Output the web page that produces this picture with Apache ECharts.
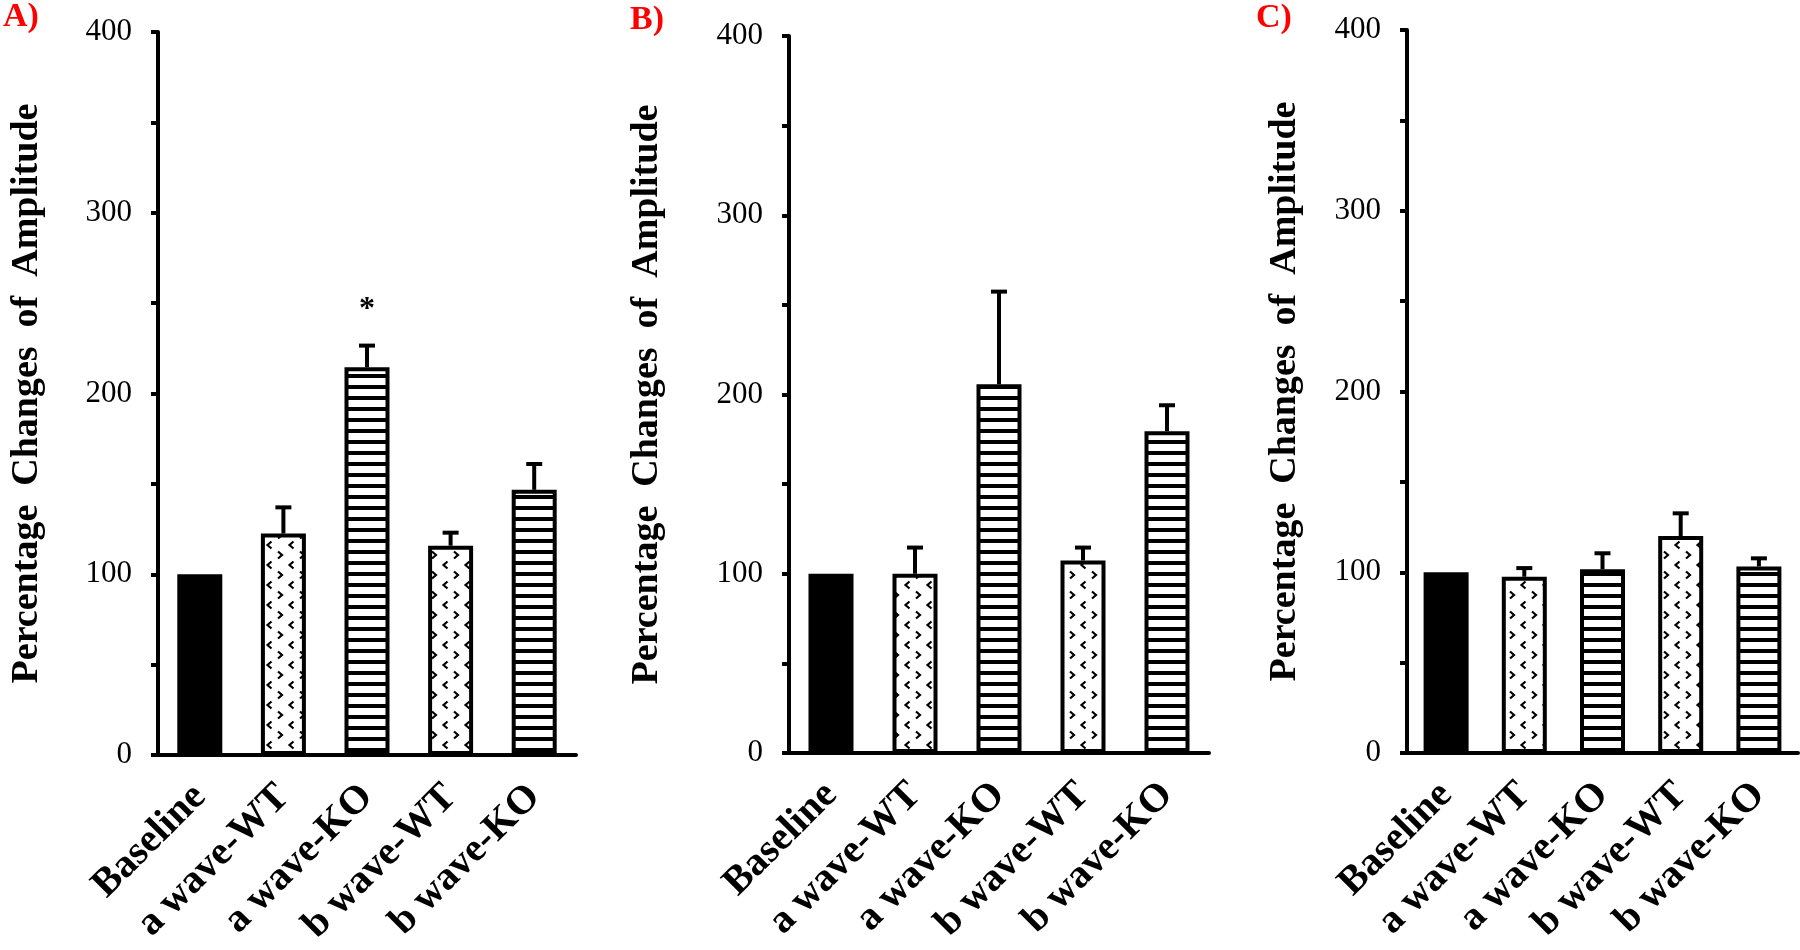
<!DOCTYPE html>
<html>
<head>
<meta charset="utf-8">
<script src="https://cdn.jsdelivr.net/npm/echarts@6/dist/echarts.min.js"></script>
<style>
html,body{margin:0;padding:0;background:#fff;}
#chart{width:1800px;height:950px;}
</style>
</head>
<body>
<div id="chart"></div>
<script>
// ---- data ----
const categories = ['Baseline', 'a wave-WT', 'a wave-KO', 'b wave-WT', 'b wave-KO'];
const panelLabels = ['A)', 'B)', 'C)'];
const yTitle = 'Percentage  Changes  of  Amplitude';
const yTickValues = [0, 100, 200, 300, 400];

const meanA = [100, 122.5, 214.5, 115.8, 146.7];
const semA  = [0, 14.5, 12, 7.2, 14.3];
const markA = ['', '', '*', '', ''];

const meanB = [100, 100, 205.7, 107.4, 179.5];
const semB  = [0, 14.6, 51.7, 7.2, 14.5];
const markB = ['', '', '', '', ''];

const meanC = [100, 97.5, 101.7, 120, 103.2];
const semC  = [0, 4.8, 8.8, 12.6, 4.5];
const markC = ['', '', '', '', ''];

// ---- styles ----
const FONT = '"Liberation Serif", "Times New Roman", serif';
const fills = ['solid', 'dots', 'stripes', 'dots', 'stripes'];

function stripePattern() {
  const c = document.createElement('canvas');
  c.width = 8; c.height = 11;
  const g = c.getContext('2d');
  g.fillStyle = '#fff'; g.fillRect(0, 0, 8, 11);
  g.fillStyle = '#000'; g.fillRect(0, 0, 8, 4);
  return c;
}
function dotPattern() {
  const c = document.createElement('canvas');
  c.width = 22; c.height = 20;
  const g = c.getContext('2d');
  g.fillStyle = '#fff'; g.fillRect(0, 0, 22, 20);
  g.strokeStyle = '#000'; g.lineWidth = 2.2;
  // "<"
  g.beginPath(); g.moveTo(7.5, 1.5); g.lineTo(3.5, 5); g.lineTo(7.5, 8.5); g.stroke();
  // ">"
  g.beginPath(); g.moveTo(14, 11.5); g.lineTo(18, 15); g.lineTo(14, 18.5); g.stroke();
  return c;
}
const patterns = {
  solid: '#000',
  dots: { image: dotPattern(), repeat: 'repeat' },
  stripes: { image: stripePattern(), repeat: 'repeat' }
};

const grids = [
  { left: 158, width: 418, top: 32, bottom: 195 },
  { left: 789, width: 420, top: 36, bottom: 197 },
  { left: 1407, width: 391, top: 30, bottom: 197 }
];
const nameGaps = [112, 123, 103];
const barWidths = [45, 45, 45];
const titlePos = [{ left: 3, top: 0 }, { left: 630, top: 3 }, { left: 1256, top: 1 }];

const panels = [
  { mean: meanA, sem: semA, mark: markA },
  { mean: meanB, sem: semB, mark: markB },
  { mean: meanC, sem: semC, mark: markC }
];

const xAxes = [], yAxes = [], series = [], titles = [];
panels.forEach((p, k) => {
  titles.push({
    text: panelLabels[k], left: titlePos[k].left, top: titlePos[k].top, padding: 0,
    textStyle: { color: '#ff0000', fontFamily: FONT, fontWeight: 'bold', fontSize: 34 }
  });
  xAxes.push({
    type: 'category', gridIndex: k, data: categories, boundaryGap: true,
    axisLine: { lineStyle: { color: '#000', width: 4 } },
    axisTick: { alignWithLabel: true, length: 7, lineStyle: { color: '#000', width: 4 } },
    axisLabel: { rotate: 45, margin: 36, color: '#000', fontFamily: FONT, fontWeight: 'bold', fontSize: 40, interval: 0 },
    splitLine: { show: false }
  });
  yAxes.push({
    type: 'value', gridIndex: k, min: 0, max: 400, interval: 50,
    name: yTitle, nameLocation: 'middle', nameRotate: 90, nameGap: nameGaps[k],
    nameTextStyle: { color: '#000', fontFamily: FONT, fontWeight: 'bold', fontSize: 38 },
    axisLine: { show: true, lineStyle: { color: '#000', width: 4 } },
    axisTick: { show: true, length: 7, lineStyle: { color: '#000', width: 4 } },
    axisLabel: {
      margin: 26, color: '#000', fontFamily: FONT, fontSize: 31,
      formatter: v => (yTickValues.indexOf(v) >= 0 ? String(v) : '')
    },
    splitLine: { show: false }
  });
  series.push({
    type: 'bar', xAxisIndex: k, yAxisIndex: k, barWidth: barWidths[k],
    data: p.mean.map((v, i) => ({
      value: v,
      itemStyle: { color: patterns[fills[i]], borderColor: '#000', borderWidth: 4 }
    })),
    animation: false, z: 2
  });
  series.push({
    type: 'custom', xAxisIndex: k, yAxisIndex: k,
    data: p.mean.map((v, i) => [i, v, p.sem[i], p.mark[i]]),
    renderItem: function (params, api) {
      const i = api.value(0), m = api.value(1), s = api.value(2);
      const mk = p.mark[i];
      const children = [];
      const p0 = api.coord([i, m]);
      const p1 = api.coord([i, m + s]);
      if (s > 0) {
        children.push({ type: 'line', shape: { x1: p0[0], y1: p0[1], x2: p1[0], y2: p1[1] }, style: { stroke: '#000', lineWidth: 4 } });
        children.push({ type: 'line', shape: { x1: p1[0] - 8, y1: p1[1], x2: p1[0] + 8, y2: p1[1] }, style: { stroke: '#000', lineWidth: 4 } });
      }
      if (mk) {
        children.push({ type: 'text', x: p1[0], y: p1[1] - 36, style: { text: mk, fill: '#000', font: 'bold 32px ' + FONT, align: 'center', verticalAlign: 'middle' } });
      }
      return { type: 'group', children: children };
    },
    animation: false, z: 3
  });
});

const chart = echarts.init(document.getElementById('chart'), null, { renderer: 'canvas' });
chart.setOption({
  backgroundColor: '#fff',
  animation: false,
  title: titles,
  grid: grids,
  xAxis: xAxes,
  yAxis: yAxes,
  series: series
});
</script>
</body>
</html>
